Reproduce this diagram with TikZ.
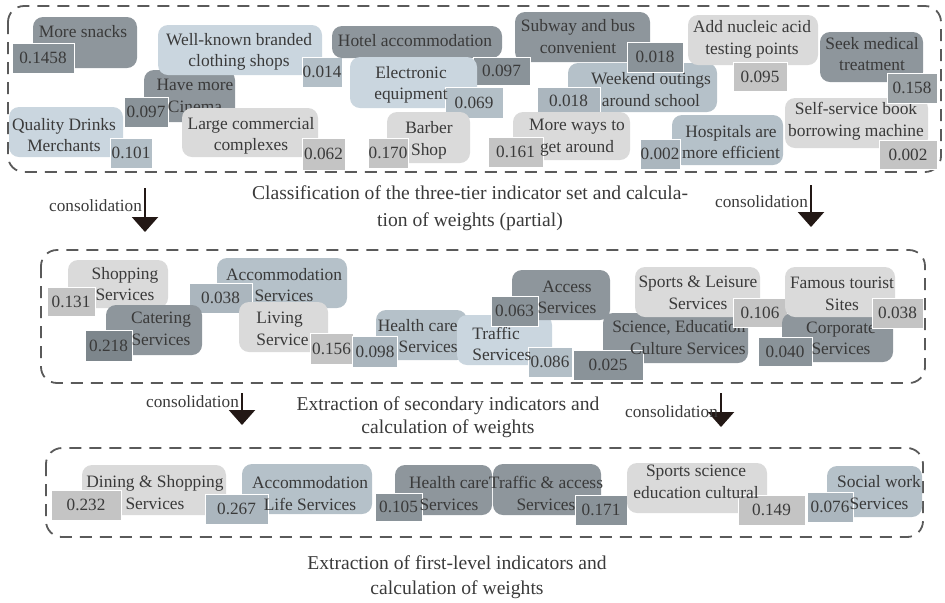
\documentclass[tikz,border=0pt]{standalone}
\usepackage{fontspec}
\setmainfont{Liberation Serif}
\usepackage{xcolor}
\usepackage{tikz}
\usetikzlibrary{arrows.meta}

\definecolor{ltgrey}{HTML}{DADADA}
\definecolor{ltgreyw}{HTML}{C4C4C4}
\definecolor{ltblue}{HTML}{CAD6DF}
\definecolor{ltbluew}{HTML}{B3BFC7}
\definecolor{midblue}{HTML}{B5C1C9}
\definecolor{midbluew}{HTML}{ABB6BE}
\definecolor{dkgrey}{HTML}{8E969C}
\definecolor{dkgreyw}{HTML}{8A9399}
\definecolor{dkgreyx}{HTML}{7D868C}
\definecolor{textgrey}{HTML}{3A3A3A}
\definecolor{framegrey}{HTML}{5A5A5A}
\definecolor{arrowblack}{HTML}{231815}

\begin{document}
\begin{tikzpicture}[x=0.5pt,y=-0.5pt]
    % Styles
    \tikzstyle{panel} = [rounded corners=5pt]
    \tikzstyle{txt} = [align=center, inner sep=0pt, text=textgrey, font=\fontsize{8.7}{10.8}\selectfont]
    \tikzstyle{weight} = [rectangle, draw=white, line width=0.5pt, inner sep=0pt, text=textgrey, font=\fontsize{8.6}{10}\selectfont]
    \tikzstyle{frame} = [draw=framegrey, line width=0.9pt, dash pattern=on 6pt off 4pt, rounded corners=8pt]
    \tikzstyle{caption} = [align=center, inner sep=0pt, text=textgrey]
    \tikzstyle{consol} = [draw=arrowblack, line width=1.1pt, -{Triangle[width=13pt,length=7.5pt]}]
    \tikzstyle{consoltxt} = [inner sep=0pt, text=textgrey, font=\fontsize{8.6}{10}\selectfont]
    \useasboundingbox (0,0) rectangle (945,602);

    % Three-tier indicators
    \draw[frame] (8,6) rectangle (941,172);
    \path[panel, fill=dkgrey] (33,17) rectangle (137,68);
    \node[txt] (snacks) at (83,32) {More snacks};
    \node[weight, fill=dkgreyw, minimum width=31pt, minimum height=15pt] (wsnacks) at (43,58) {0.1458};
    \path[panel, fill=dkgrey] (144,70) rectangle (235,122);
    \node[weight, fill=dkgreyw, minimum width=22pt, minimum height=15pt] (wcinema) at (146,112) {0.097};
    \node[txt] (cinema) at (195,96) {Have more\\Cinema};
    \path[panel, fill=ltblue] (158,25) rectangle (322,75);
    \node[weight, fill=ltbluew, minimum width=20pt, minimum height=15pt] (wbrands) at (322,72) {0.014};
    \node[txt] (brands) at (239,52) {Well-known branded\\clothing shops};
    \path[panel, fill=ltblue] (9,107) rectangle (123,157);
    \node[weight, fill=ltbluew, minimum width=21pt, minimum height=15pt] (wdrinks) at (131,153) {0.101};
    \node[txt] (drinks) at (64,135) {Quality Drinks\\Merchants};
    \path[panel, fill=ltgrey] (182,108) rectangle (318,157);
    \node[weight, fill=ltgreyw, minimum width=21.5pt, minimum height=16pt] (wcomplex) at (323.5,154) {0.062};
    \node[txt] (complex) at (251,136) {Large commercial\\complexes};
    \path[panel, fill=midblue] (568,63) rectangle (717,112);
    \node[weight, fill=midbluew, minimum width=31.5pt, minimum height=14pt] (wweekend) at (568.5,101) {0.018};
    \node[txt] (weekend) at (651,89.5) {Weekend outings\\around school};
    \path[panel, fill=dkgrey] (515,12) rectangle (650,62);
    \node[txt] (subway) at (578,36.5) {Subway and bus\\convenient};
    \node[weight, fill=dkgreyw, minimum width=28pt, minimum height=15pt] (wsubway) at (655,57) {0.018};
    \path[panel, fill=dkgrey] (332,26) rectangle (502,58);
    \node[txt] (hotel) at (415,41) {Hotel accommodation};
    \node[weight, fill=dkgreyw, minimum width=28.5pt, minimum height=14pt] (whotel) at (501.5,71) {0.097};
    \path[panel, fill=ltblue] (350,57) rectangle (477,108);
    \node[weight, fill=ltbluew, minimum width=29pt, minimum height=15.5pt] (welectronic) at (474,102.5) {0.069};
    \node[txt] (electronic) at (411,85) {Electronic\\equipment};
    \path[panel, fill=ltgrey] (387,112) rectangle (470,163);
    \node[weight, fill=ltgreyw, minimum width=20pt, minimum height=15pt] (wbarber) at (388,153) {0.170};
    \node[txt] (barber) at (429,140.5) {Barber\\Shop};
    \path[panel, fill=ltgrey] (513,112) rectangle (630,160);
    \node[weight, fill=ltgreyw, minimum width=27.5pt, minimum height=15pt] (wways) at (515.5,152) {0.161};
    \node[txt] (ways) at (577,137.5) {More ways to\\get around};
    \path[panel, fill=ltgrey] (688,15) rectangle (818,65);
    \node[txt] (nucleic) at (752,39.5) {Add nucleic acid\\testing points};
    \node[weight, fill=ltgreyw, minimum width=27pt, minimum height=14.5pt] (wnucleic) at (760,76.5) {0.095};
    \path[panel, fill=ltgrey] (785,98) rectangle (928,148);
    \node[weight, fill=ltgreyw, minimum width=29pt, minimum height=14.5pt] (wselfservice) at (908,154.5) {0.002};
    \node[txt] (selfservice) at (856,121.5) {Self-service book\\borrowing machine};
    \path[panel, fill=dkgrey] (820,32) rectangle (923,82);
    \node[txt] (medical) at (872,54) {Seek medical\\treatment};
    \node[weight, fill=dkgreyw!70!ltgreyw, minimum width=25pt, minimum height=15pt] (wmedical) at (912,88) {0.158};
    \path[panel, fill=midblue] (672,115) rectangle (783,165);
    \node[weight, fill=midbluew, minimum width=20pt, minimum height=15pt] (whospitals) at (660,154) {0.002};
    \node[txt] (hospitals) at (731,142) {Hospitals are\\more efficient};
    \node[caption, font=\fontsize{9.8}{13.5}\selectfont] (capthree) at (470,208.5) {Classification of the three-tier indicator set and calcula-\\tion of weights (partial)};

    % Consolidation
    \coordinate (c1s) at (145,188);
    \coordinate (c1e) at (145,232);
    \coordinate (c2s) at (811,185);
    \coordinate (c2e) at (811,227);
    \draw[consol] (c1s) -- (c1e) node[consoltxt, pos=0.4, left=1pt] (c1lbl) {consolidation};
    \draw[consol] (c2s) -- (c2e) node[consoltxt, pos=0.4, left=1pt] (c2lbl) {consolidation};

    % Secondary indicators
    \draw[frame] (41,250) rectangle (925,383);
    \path[panel, fill=ltgrey] (68,260) rectangle (168,308);
    \node[weight, fill=ltgreyw, minimum width=24pt, minimum height=14.5pt] (wshopping) at (71,301.5) {0.131};
    \node[txt] (shopping) at (125,284) {Shopping\\Services};
    \path[panel, fill=midblue] (217,258) rectangle (347,308);
    \node[weight, fill=midbluew, minimum width=31.5pt, minimum height=15pt] (waccom) at (220.5,298) {0.038};
    \node[txt] (accom) at (284,285) {Accommodation\\Services};
    \path[panel, fill=dkgrey] (106,305) rectangle (202,355);
    \node[weight, fill=dkgreyx, minimum width=23.5pt, minimum height=15.5pt] (wcatering) at (108.5,345.5) {0.218};
    \node[txt] (catering) at (161,329) {Catering\\Services};
    \path[panel, fill=ltgrey] (239,302) rectangle (328,352);
    \node[weight, fill=ltgreyw, minimum width=21.5pt, minimum height=15.5pt] (wliving) at (331.5,348.5) {0.156};
    \node[txt, align=left, anchor=west] (living) at (256,329) {Living\\Service};
    \path[panel, fill=midblue] (376,310) rectangle (467,360);
    \node[weight, fill=midbluew, minimum width=22.5pt, minimum height=15.5pt] (whealth) at (375,351.5) {0.098};
    \path[panel, fill=ltblue] (457,315) rectangle (552,365);
    \node[weight, fill=ltbluew, minimum width=22pt, minimum height=15pt] (wtraffic) at (550,362) {0.086};
    \node[txt, align=left, anchor=west] (traffic) at (472,344) {Traffic\\Services};
    \node[txt, align=right, anchor=east] (health) at (458,336) {Health care\\Services};
    \path[panel, fill=dkgrey] (512,270) rectangle (610,320);
    \node[weight, fill=dkgreyw, minimum width=23.5pt, minimum height=15pt] (waccess) at (514.5,311) {0.063};
    \node[txt] (access) at (567,297.5) {Access\\Services};
    \path[panel, fill=dkgrey] (603,313) rectangle (748,363);
    \node[weight, fill=dkgreyw, minimum width=35pt, minimum height=15pt] (wscience) at (608,365) {0.025};
    \node[txt, align=right, anchor=east] (science) at (746,337.5) {Science, Education\\Culture Services};
    \path[panel, fill=ltgrey] (635,267) rectangle (760,317);
    \node[txt] (sports) at (698,293) {Sports \& Leisure\\Services};
    \node[weight, fill=ltgreyw, minimum width=27pt, minimum height=14.5pt] (wsports) at (760,312.5) {0.106};
    \path[panel, fill=dkgrey] (782,313) rectangle (893,362);
    \node[weight, fill=dkgreyw, minimum width=27pt, minimum height=14.5pt] (wcorporate) at (785,351.5) {0.040};
    \node[txt] (corporate) at (841,338.5) {Corporate\\Services};
    \path[panel, fill=ltgrey] (785,267) rectangle (895,317);
    \node[txt] (famous) at (842,294) {Famous tourist\\Sites};
    \node[weight, fill=ltgreyw, minimum width=25.5pt, minimum height=15pt] (wfamous) at (897.5,313) {0.038};
    \node[caption, font=\fontsize{9.8}{11.5}\selectfont] (capsecond) at (448,417) {Extraction of secondary indicators and\\calculation of weights};

    % Consolidation
    \coordinate (c3s) at (242,393);
    \coordinate (c3e) at (242,425);
    \coordinate (c4s) at (721,393);
    \coordinate (c4e) at (721,427);
    \draw[consol] (c3s) -- (c3e) node[consoltxt, pos=0.28, left=1pt] (c3lbl) {consolidation};
    \draw[consol] (c4s) -- (c4e) node[consoltxt, pos=0.56, left=1pt] (c4lbl) {consolidation};

    % First-level indicators
    \draw[frame] (46,448) rectangle (923,537);
    \path[panel, fill=ltgrey] (82,465) rectangle (226,515);
    \node[weight, fill=ltgreyw, minimum width=35pt, minimum height=15pt] (wdining) at (86,505) {0.232};
    \node[txt] (dining) at (155,492.5) {Dining \& Shopping\\Services};
    \path[panel, fill=midblue] (242,464) rectangle (372,514);
    \node[weight, fill=midbluew, minimum width=31.5pt, minimum height=15pt] (waccomlife) at (236.5,509) {0.267};
    \node[txt] (accomlife) at (310,493.5) {Accommodation\\Life Services};
    \path[panel, fill=dkgrey] (395,465) rectangle (492,515);
    \node[weight, fill=dkgreyw, minimum width=23.5pt, minimum height=14pt] (whealthcare) at (398.5,507) {0.105};
    \node[txt] (healthcare) at (449,493.5) {Health care\\Services};
    \path[panel, fill=dkgrey] (493,464) rectangle (601,515);
    \node[txt] (trafficaccess) at (546,493.5) {Traffic \& access\\Services};
    \node[weight, fill=dkgreyw, minimum width=26pt, minimum height=15pt] (wtrafficaccess) at (601,510) {0.171};
    \path[panel, fill=ltgrey] (627,463) rectangle (767,513);
    \node[weight, fill=ltgreyw, minimum width=33.5pt, minimum height=15pt] (wsportsci) at (771.5,510) {0.149};
    \node[txt] (sportsci) at (696,482) {Sports science\\education cultural};
    \path[panel, fill=midblue] (827,466) rectangle (922,517);
    \node[weight, fill=midbluew, minimum width=23pt, minimum height=15pt] (wsocial) at (830,507) {0.076};
    \node[txt] (social) at (879,492.5) {Social work\\Services};
    \node[caption, font=\fontsize{9.8}{12.5}\selectfont] (capfirst) at (457,577.5) {Extraction of first-level indicators and\\calculation of weights};
\end{tikzpicture}
\end{document}
